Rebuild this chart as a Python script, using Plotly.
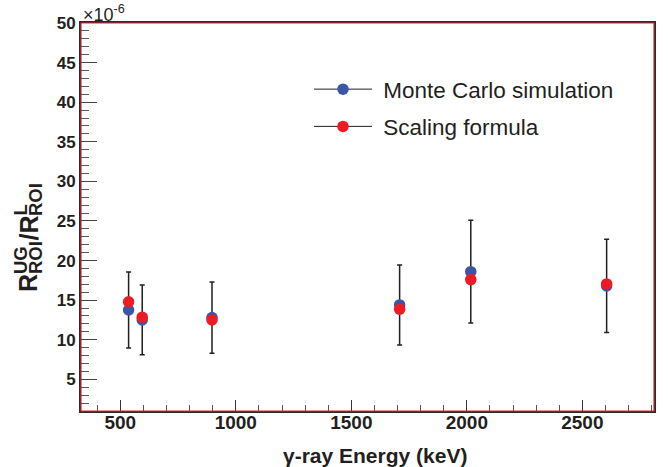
import plotly.graph_objects as go

# Data (values in units of 1e-6)
energy_keV = [536, 595, 897, 1709, 2017, 2605]
mc_sim = [13.75, 12.5, 12.8, 14.4, 18.6, 16.8]
mc_err = [4.8, 4.4, 4.5, 5.05, 6.5, 5.9]
scaling = [14.8, 12.85, 12.5, 13.85, 17.6, 17.05]

BLUE = "#3a56a5"
RED = "#ed1c24"
DARK = "#231f20"

W, H = 668, 467
ML, MR, MT, MB = 81, 14, 23, 56
PW, PH = W - ML - MR, H - MT - MB


def px(xw):
    """window x pixel -> paper x"""
    return (xw - ML) / PW


def py(yw):
    """window y pixel -> paper y"""
    return (H - MB - yw) / PH


fig = go.Figure()

fig.add_trace(go.Scatter(
    x=energy_keV, y=mc_sim, mode="markers", name="Monte Carlo simulation",
    showlegend=False,
    marker=dict(color=BLUE, size=11.5, line=dict(width=0)),
    error_y=dict(type="data", array=mc_err, visible=True, color=DARK, thickness=1.5, width=2.5),
))
fig.add_trace(go.Scatter(
    x=energy_keV, y=scaling, mode="markers", name="Scaling formula",
    showlegend=False,
    marker=dict(color=RED, size=11.5, line=dict(width=0)),
))
# legend entries (line + marker, as in the reference legend)
fig.add_trace(go.Scatter(
    x=[None], y=[None], mode="lines+markers", name="\u00a0Monte Carlo simulation",
    legendgroup="a", line=dict(color=DARK, width=1),
    marker=dict(color=BLUE, size=11.5, line=dict(width=0)),
))
fig.add_trace(go.Scatter(
    x=[None], y=[None], mode="lines+markers", name="\u00a0Scaling formula",
    legendgroup="b", line=dict(color=DARK, width=1),
    marker=dict(color=RED, size=11.5, line=dict(width=0)),
))

tickfont_y = dict(family="Liberation Sans, Arial", size=17, color=DARK, weight="bold")
tickfont_x = dict(family="Liberation Sans, Arial", size=19, color=DARK, weight="bold")

fig.update_xaxes(
    range=[330, 2810], tick0=0, dtick=500, ticks="inside", ticklen=11, tickwidth=1.2,
    tickcolor="#333", tickfont=tickfont_x, showgrid=False, zeroline=False, automargin=False,
    showline=True, linecolor="#2a2a2a", linewidth=2, mirror=True, ticklabelstandoff=-7,
    minor=dict(dtick=100, tick0=0, ticks="inside", ticklen=6, tickcolor="#555", tickwidth=1),
)
fig.update_yaxes(
    range=[1, 50], tick0=0, dtick=5, ticks="inside", ticklen=16, tickwidth=1.2,
    tickcolor="#444", tickfont=tickfont_y, showgrid=False, zeroline=False, automargin=False,
    showline=True, linecolor="#2a2a2a", linewidth=2, mirror=True,
    minor=dict(dtick=1, tick0=0, ticks="inside", ticklen=8, tickcolor="#555", tickwidth=1),
)

fig.add_shape(type="rect", xref="paper", yref="paper", x0=0, x1=1, y0=0, y1=1,
              line=dict(color="#d42a2a", width=1.2), layer="above")

# x-axis title
fig.add_annotation(text="γ-ray Energy (keV)", x=px(375), y=py(455), xref="paper", yref="paper",
                   xanchor="center", yanchor="middle", showarrow=False,
                   font=dict(family="Liberation Sans, Arial", size=21, color=DARK, weight="bold"))

# y-axis title built from pieces (stacked super/subscripts)
big = dict(family="Liberation Sans, Arial", size=25, color=DARK, weight="bold")
small = dict(family="Liberation Sans, Arial", size=18.5, color=DARK, weight="bold")
pieces = [
    ("R", 28, 283, big),
    ("UG", 20, 260, small),
    ("ROI", 35.5, 257.5, small),
    ("/R", 28, 228.5, big),
    ("L", 20, 210.4, small),
    ("ROI", 35.5, 199.6, small),
]
for txt, cx, cy, f in pieces:
    fig.add_annotation(text=txt, x=px(cx), y=py(cy), xref="paper", yref="paper",
                       xanchor="center", yanchor="middle", textangle=-90,
                       showarrow=False, font=f, borderpad=0)

fig.add_annotation(text="×10<sup>-6</sup>", x=0, y=1, xref="paper", yref="paper",
                   xanchor="left", yanchor="bottom", showarrow=False, yshift=-4,
                   font=dict(family="Liberation Sans, Arial", size=18, color=DARK))

fig.update_layout(
    width=W, height=H, margin=dict(l=ML, r=MR, t=MT, b=MB, autoexpand=False),
    paper_bgcolor="white", plot_bgcolor="white",
    showlegend=True,
    legend=dict(x=px(309), y=py(68), xanchor="left", yanchor="top",
                bgcolor="rgba(0,0,0,0)", itemwidth=58, tracegroupgap=5,
                font=dict(family="Liberation Sans, Arial", size=22.5, color=DARK)),
)

fig.write_html("out.html", config={"displayModeBar": False},
               post_script="document.body.style.margin='0px';")
